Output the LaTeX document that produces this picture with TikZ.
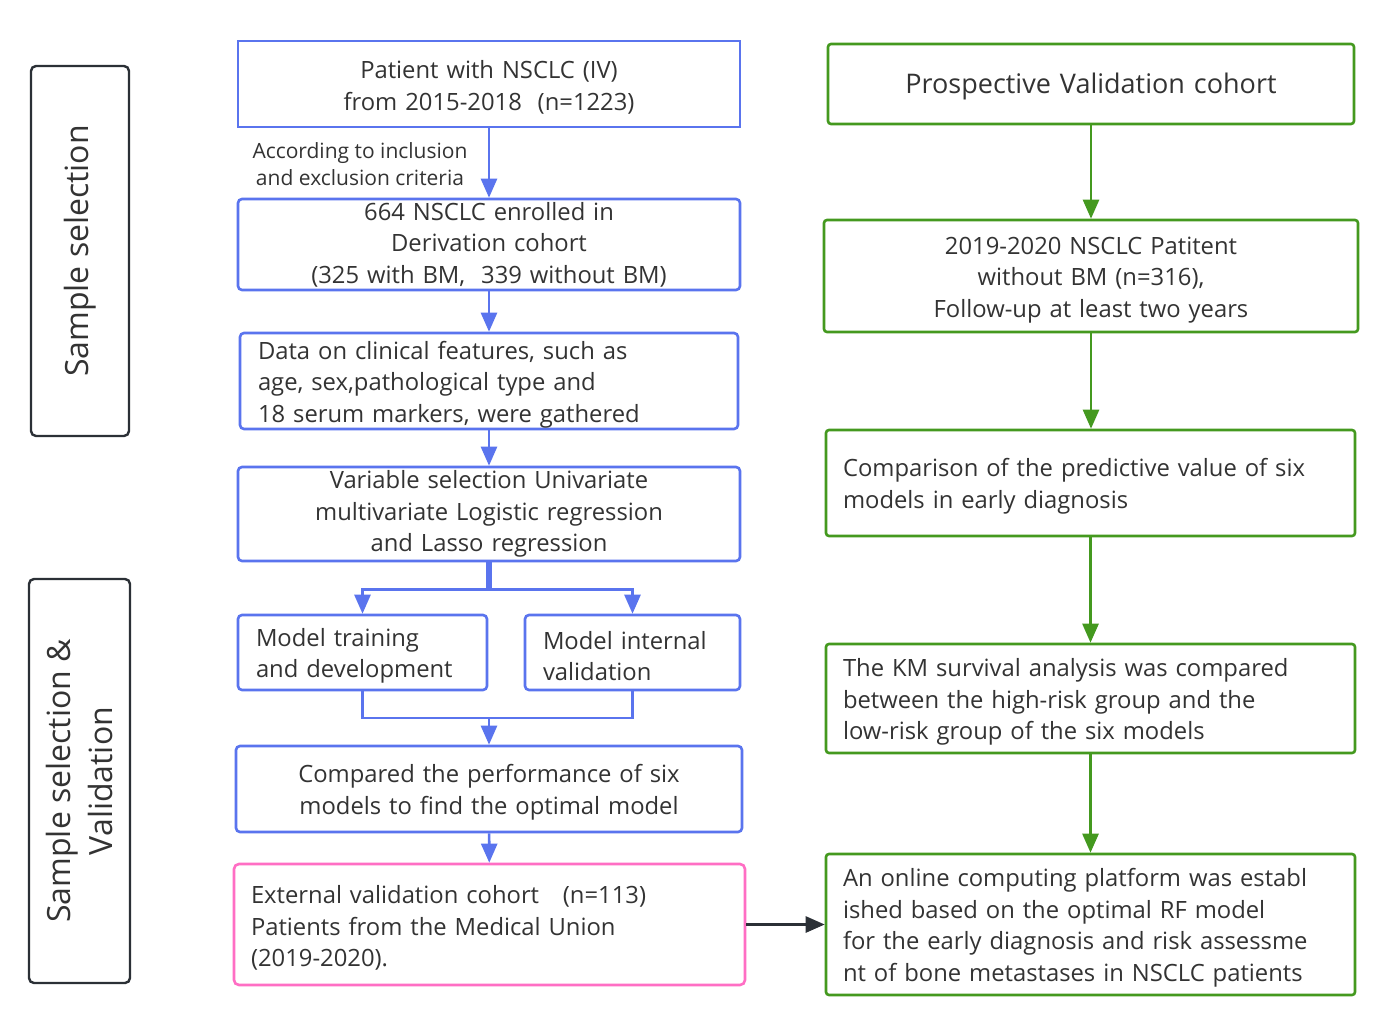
\documentclass[tikz,border=0pt]{standalone}
\usepackage{fontspec}
\setmainfont{Open Sans}
\usepackage{tikz}
\usetikzlibrary{arrows.meta,calc,positioning}
\definecolor{derive}{HTML}{5A74EE}
\definecolor{extern}{HTML}{FF6EC4}
\definecolor{prosp}{HTML}{44991F}
\definecolor{stage}{HTML}{2B3036}
\definecolor{ink}{HTML}{333333}
\tikzset{
  box/.style={draw, line width=2.6pt, text=ink, inner xsep=0pt, inner ysep=0pt,
    font=\fontsize{23.8}{31.5}\selectfont},
  lower/.style={execute at begin node={\rule{0pt}{25pt}}},
  bluebox/.style={box, draw=derive, rounded corners=4pt},
  greenbox/.style={box, lower, draw=prosp, rounded corners=3pt},
  pinkbox/.style={box, lower, draw=extern, rounded corners=5pt},
  stagebox/.style={draw=stage, line width=2.4pt, rounded corners=5pt},
  stagetext/.style={rotate=90, text=ink, font=\fontsize{32}{42}\selectfont, align=center},
  link/.style={line width=2.6pt},
  flow/.style={link, -{Triangle[length=19pt,width=16pt]}},
  note/.style={font=\fontsize{21}{27}\selectfont, text=ink, align=center}
}
\begin{document}
\begin{tikzpicture}[x=1pt,y=-1pt]
\useasboundingbox (0,0) rectangle (1380,1024);
\fill[white] (0,0) rectangle (1380,1024);

% stage labels
\node[stagebox, minimum width=98pt, minimum height=370pt] (stg1) at (80,251) {};
\node[stagetext] (stg1t) at (stg1) {Sample selection};
\node[stagebox, minimum width=101pt, minimum height=404pt] (stg2) at (79.5,781) {};
\node[stagetext] (stg2t) at (stg2) {Sample selection \&\\Validation};

% derivation column
\node[box, lower, draw=derive, minimum width=502pt, minimum height=86pt, text width=490pt, align=center] (pat) at (489,84)
  {Patient with NSCLC (IV)\\from 2015-2018\ \ (n=1223)};
\node[bluebox, minimum width=502pt, minimum height=91pt, text width=490pt, align=center] (enr) at (489,244.5)
  {664 NSCLC enrolled in\\Derivation cohort\\(325 with BM,\ \ 339 without BM)};
\node[bluebox, lower, minimum width=498pt, minimum height=96pt, text width=462pt, align=left] (dat) at (489,381)
  {Data on clinical features, such as\\age, sex,pathological type and\\18 serum markers, were gathered};
\node[bluebox, minimum width=502pt, minimum height=94pt, text width=490pt, align=center] (var) at (489,514)
  {Variable selection Univariate\\multivariate Logistic regression\\and Lasso regression};
\node[bluebox, lower, minimum width=249pt, minimum height=75pt, text width=213pt, align=left] (trn) at (362.5,652.5)
  {Model training\\and development};
\node[bluebox, lower, minimum width=215pt, minimum height=75pt, text width=179pt, align=left] (val) at (632.5,652.5)
  {Model internal\\validation};
\node[bluebox, lower, minimum width=506pt, minimum height=86pt, text width=490pt, align=center] (cmp) at (489,789)
  {Compared the performance of six\\models to find the optimal model};
\node[pinkbox, minimum width=511pt, minimum height=121pt, text width=477pt, align=left] (ext) at (489.5,924.5)
  {External validation cohort\ \ \ (n=113)\\Patients from the Medical Union\\(2019-2020).};

\node[note] (crit) at (360,164) {According to inclusion\\and exclusion criteria};

\draw[flow, derive] (pat) -- (enr);
\draw[flow, derive] (enr) -- (dat);
\draw[flow, derive] (dat) -- (var);
\draw[flow, derive] ([xshift=-1.5pt]var.south) -- ++(0,27) -| (trn.north);
\draw[flow, derive] ([xshift=1.5pt]var.south) -- ++(0,27) -| (val.north);
\coordinate (mrg) at (489,718);
\draw[link, derive] (trn.south) |- (mrg) -| (val.south);
\draw[flow, derive] (mrg) -- (cmp.north);
\draw[flow, derive] (cmp) -- (ext);

% prospective column
\node[greenbox, minimum width=526pt, minimum height=80pt, text width=500pt, align=center,
  font=\fontsize{27}{34}\selectfont] (pro) at (1091,84) {Prospective Validation cohort};
\node[greenbox, minimum width=534pt, minimum height=112pt, text width=510pt, align=center] (fol) at (1091,276)
  {2019-2020 NSCLC Patitent\\without BM (n=316),\\Follow-up at least two years};
\node[greenbox, minimum width=529pt, minimum height=106pt, text width=495pt, align=left] (six) at (1090.5,483)
  {Comparison of the predictive value of six\\models in early diagnosis};
\node[greenbox, minimum width=529pt, minimum height=109pt, text width=495pt, align=left] (km) at (1090.5,698.5)
  {The KM survival analysis was compared\\between the high-risk group and the\\low-risk group of the six models};
\node[greenbox, minimum width=529pt, minimum height=141pt, text width=495pt, align=left] (web) at (1090.5,924.5)
  {An online computing platform was establ\\ished based on the optimal RF model\\for the early diagnosis and risk assessme\\nt of bone metastases in NSCLC patients};

\draw[flow, prosp] (pro) -- (pro.south |- fol.north);
\draw[flow, prosp] (fol.south) -- (fol.south |- six.north);
\draw[flow, prosp] (six) -- (km);
\draw[flow, prosp] (km) -- (web);

\draw[flow, stage] (ext) -- (web);
\end{tikzpicture}
\end{document}
